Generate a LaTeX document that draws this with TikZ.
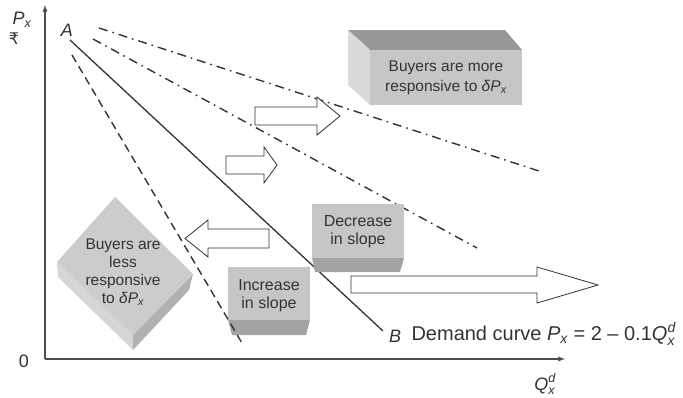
\documentclass[tikz,border=0pt]{standalone}
\usepackage{amsmath}
\usepackage{fontspec}
\setmainfont{Liberation Sans}
\newfontfamily\rupeefont{DejaVu Sans}
\definecolor{ink}{HTML}{333333}
\definecolor{face}{HTML}{C6C6C6}
\definecolor{band}{HTML}{A3A3A3}
\definecolor{lid}{HTML}{989898}
\definecolor{side}{HTML}{DADADA}
\tikzset{
  boxtext/.style = {align = center, text = ink, font = \fontsize{15.5}{18}\selectfont},
  label/.style = {text = ink, font = \fontsize{18}{20}\selectfont},
  blockarrow/.style = {draw = ink, fill = white, line width = .8pt},
  axis/.style = {draw = black!70, line width = 1.3pt, -latex},
  dashdot/.style = {line width = 1.4pt, ink, dash pattern = on 9pt off 5pt on 1.6pt off 5pt}
}
\begin{document}
\begin{tikzpicture}[x = 1pt, y = -1pt]
\useasboundingbox (0, 0) rectangle (683, 397);
\coordinate (o) at (45, 359);
\draw[axis] (o) -- (45, 5);
\draw[axis] (o) -- (565, 359);
\draw (22, 20) node[label] (px) {$\textit{P}_{\textit{x}}$};
\draw (14, 39) node[label, font = \fontsize{16}{18}\selectfont] (rupee) {\rupeefont ₹};
\draw (24, 361) node[label] (zero) {0};
\draw (545, 384) node[label] (qx) {$\textit{Q}^{\textit{d}}_{\textit{x}}$};
\draw (67, 30) node[label] (a) {\textit{A}};
\draw (395, 336) node[label] (b) {\textit{B}};
\draw (408, 334) node[label, anchor = west, font = \fontsize{20}{22}\selectfont] (demand)
  {Demand curve $\textit{P}_{\textit{x}}$ = 2 – 0.1$\textit{Q}^{\textit{d}}_{\textit{x}}$};
\coordinate (a1) at (70, 40);
\coordinate (b1) at (383, 331);
\draw[line width = 1.3pt, ink] (a1) -- (b1);
\draw[dashdot] (99, 28) -- (542, 172);
\draw[dashdot] (93, 39) -- (477, 248);
\fill[lid] (348, 30) -- (505, 30) -- (522, 50) -- (370, 50) -- cycle;
\fill[side] (348, 30) -- (370, 50) -- (370, 105) -- (348, 85) -- cycle;
\fill[face] (370, 50) rectangle (522, 105);
\draw (446, 78) node[boxtext, font = \fontsize{15.5}{20}\selectfont] (more)
  {Buyers are more\\responsive to \textit{δ}$\textit{P}_{\textit{x}}$};
\fill[side!80!face] (57, 262) -- (133, 335) -- (133, 350) -- (58, 277) -- cycle;
\fill[band!60!face] (133, 335) -- (193, 274) -- (189, 290) -- (133, 350) -- cycle;
\fill[face!90!white] (115, 197) -- (193, 274) -- (133, 335) -- (57, 262) -- cycle;
\draw (123, 272) node[boxtext] (less)
  {Buyers are\\less\\responsive\\to \textit{δ}$\textit{P}_{\textit{x}}$};
\fill[band] (312, 258) -- (404, 258) -- (400, 272) -- (315, 272) -- cycle;
\fill[face] (312, 204) rectangle (404, 258);
\draw (358, 232) node[boxtext, font = \fontsize{16}{18}\selectfont] (decrease) {Decrease\\in slope};
\fill[band] (228, 320) -- (310, 320) -- (306, 335) -- (232, 335) -- cycle;
\fill[face] (228, 267) rectangle (310, 320);
\draw (269, 296) node[boxtext, font = \fontsize{16}{18}\selectfont] (increase) {Increase\\in slope};
\draw[line width = 1.4pt, ink, dash pattern = on 8pt off 5pt] (72, 55) -- (242, 343);
\draw[blockarrow] (255, 107) -- (317, 107) -- (317, 97) -- (340, 116)
  -- (317, 135) -- (317, 125) -- (255, 125) -- cycle;
\draw[blockarrow] (226, 156) -- (264, 156) -- (264, 147) -- (277, 165)
  -- (264, 183) -- (264, 174) -- (226, 174) -- cycle;
\draw[blockarrow] (269, 229) -- (208, 229) -- (208, 220) -- (185, 238.5)
  -- (208, 257) -- (208, 248) -- (269, 248) -- cycle;
\draw[blockarrow] (351, 276) -- (537, 276) -- (537, 267) -- (598, 285)
  -- (537, 303) -- (537, 293) -- (351, 293) -- cycle;
\end{tikzpicture}
\end{document}
